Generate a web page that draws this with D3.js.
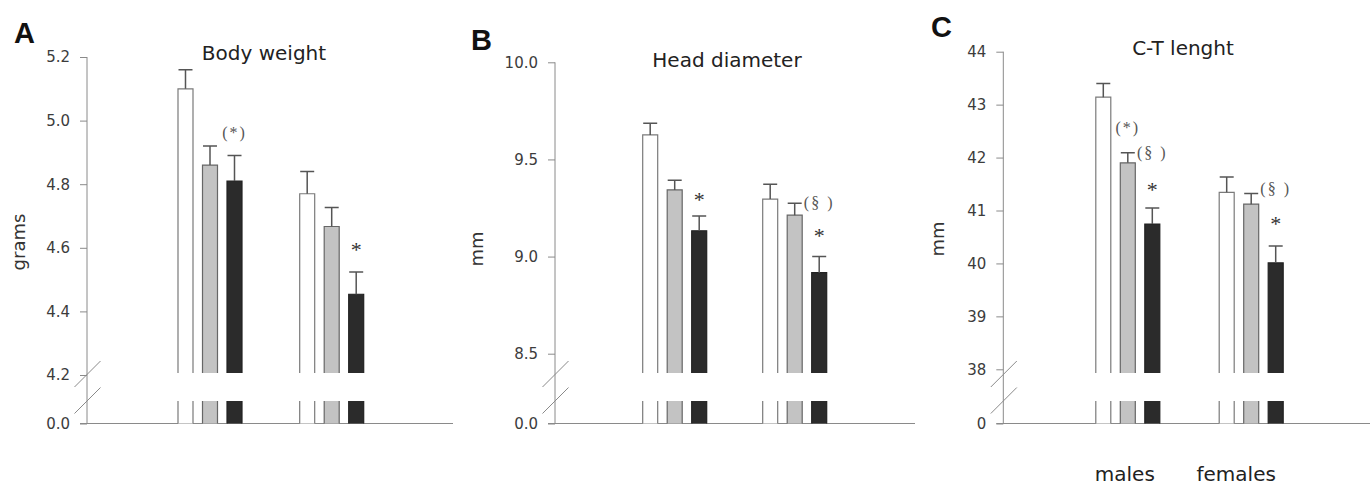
<!DOCTYPE html>
<html>
<head>
<meta charset="utf-8">
<title>Body weight, head diameter, C-T length</title>
<script src="https://d3js.org/d3.v7.min.js"></script>
<style>
  body { margin: 0; background: #fff; }
  .tick text { font-family: "DejaVu Sans", sans-serif; font-size: 15px; fill: #3c3c3c; }
  .tick line { stroke: #8a8a8a; }
  .title { font-family: "DejaVu Sans", sans-serif; font-size: 20px; fill: #222; }
  .ylab { font-family: "DejaVu Sans", sans-serif; font-size: 18px; fill: #333; }
  .letter { font-family: "Liberation Sans", Arial, sans-serif; font-size: 29px; font-weight: bold; fill: #111; }
  .note { font-family: "Liberation Serif", "Times New Roman", serif; }
</style>
</head>
<body>
<div id="chart"></div>
<script>
const groups = ["males", "females"];
const series = ["control", "low", "high"];

// values per group: [control, low, high]
const bodyWeight    = [[5.10, 4.86, 4.81], [4.77, 4.667, 4.454]];
const bodyWeightErr = [[0.06, 0.06, 0.08], [0.07, 0.06, 0.07]];
const headDiam      = [[9.626, 9.343, 9.133], [9.296, 9.213, 8.917]];
const headDiamErr   = [[0.06, 0.05, 0.076], [0.076, 0.062, 0.083]];
const ctLength      = [[43.14, 41.90, 40.745], [41.344, 41.12, 40.01]];
const ctLengthErr   = [[0.26, 0.19, 0.30], [0.29, 0.20, 0.32]];

const bwTicks = [4.2, 4.4, 4.6, 4.8, 5.0, 5.2];
const hdTicks = [8.5, 9.0, 9.5, 10.0];
const ctTicks = [38, 39, 40, 41, 42, 43, 44];

// significance marks: [group, series, text, value]
const bwNotes = [["males", 2, "(*)", 4.96], ["females", 2, "*", 4.603]];
const hdNotes = [["males", 2, "*", 9.308], ["females", 2, "(§ )", 9.271], ["females", 2, "*", 9.12]];
const ctNotes = [["males", 1, "(*)", 42.54], ["males", 2, "(§ )", 42.07], ["males", 2, "*", 41.45],
                 ["females", 2, "(§ )", 41.39], ["females", 2, "*", 40.81]];

const fills = ["#ffffff", "#c3c3c3", "#2b2b2b"];
const edges = ["#7a7a7a", "#666666", "#222222"];

const zeroY = 423.5;
const breakTop = 373;   // bottom of upper bar segment
const stubTop = 401;    // top of lower bar segment

const panels = [
  { letter: "A", lx: 14, ly: 43, title: "Body weight", tx: 264, ty: 60, ylab: "grams", yx: 19, yy: 242,
    axisX: 87, right: 453, yRange: [375, 57], ticks: bwTicks, fmt: d3.format(".1f"), zeroFmt: "0.0",
    gx: [210, 331.7], values: bodyWeight, errs: bodyWeightErr, notes: bwNotes },
  { letter: "B", lx: 471, ly: 50, title: "Head diameter", tx: 727, ty: 66.5, ylab: "mm", yx: 477, yy: 249,
    axisX: 555, right: 915, yRange: [353.7, 62.3], ticks: hdTicks, fmt: d3.format(".1f"), zeroFmt: "0.0",
    gx: [674.7, 794.7], values: headDiam, errs: headDiamErr, notes: hdNotes },
  { letter: "C", lx: 931, ly: 37, title: "C-T lenght", tx: 1183, ty: 55, ylab: "mm", yx: 938, yy: 239,
    axisX: 1003.3, right: 1370, yRange: [369.3, 51.7], ticks: ctTicks, fmt: d3.format("d"), zeroFmt: "0",
    gx: [1127.8, 1251.2], values: ctLength, errs: ctLengthErr, notes: ctNotes, xlabels: true }
];

const svg = d3.select("#chart").append("svg")
  .attr("width", 1370).attr("height", 488);

panels.forEach(p => {
  const g = svg.append("g");
  const y = d3.scaleLinear().domain([p.ticks[0], p.ticks[p.ticks.length - 1]]).range(p.yRange);
  const y0 = d3.scaleLinear().domain([0, 1]).range([zeroY, stubTop]);
  const xg = d3.scalePoint().domain(groups).range(p.gx);
  const xs = d3.scaleBand().domain(d3.range(3)).range([-32, 32]).paddingInner(0.388);
  const bw = xs.bandwidth();

  // axes
  g.append("line")
    .attr("x1", p.axisX).attr("x2", p.axisX)
    .attr("y1", y(p.ticks[p.ticks.length - 1])).attr("y2", zeroY)
    .attr("stroke", "#8a8a8a");
  g.append("line")
    .attr("x1", p.axisX - 7).attr("x2", p.right)
    .attr("y1", zeroY).attr("y2", zeroY)
    .attr("stroke", "#8a8a8a");

  const ax = g.append("g").attr("transform", `translate(${p.axisX},0)`)
    .call(d3.axisLeft(y).tickValues(p.ticks).tickFormat(p.fmt).tickSize(7).tickPadding(10));
  ax.select(".domain").remove();
  const ax0 = g.append("g").attr("transform", `translate(${p.axisX},0)`)
    .call(d3.axisLeft(y0).tickValues([0]).tickFormat(() => p.zeroFmt).tickSize(7).tickPadding(10));
  ax0.select(".domain").remove();

  // break marks
  [[387, 361], [413.5, 387.5]].forEach(([a, b]) => {
    g.append("line")
      .attr("x1", p.axisX - 12.5).attr("y1", a)
      .attr("x2", p.axisX + 13.5).attr("y2", b)
      .attr("stroke", "#8a8a8a");
  });

  // bars
  groups.forEach((grp, gi) => {
    series.forEach((s, si) => {
      const v = p.values[gi][si];
      const e = p.errs[gi][si];
      const x0 = xg(grp) + xs(si);
      const top = y(v);
      g.append("rect")
        .attr("x", x0).attr("y", top)
        .attr("width", bw).attr("height", breakTop - top)
        .attr("fill", fills[si]);
      g.append("path")
        .attr("d", `M${x0},${breakTop}V${top}H${x0 + bw}V${breakTop}`)
        .attr("fill", "none").attr("stroke", edges[si]).attr("stroke-width", 1.2);
      g.append("rect")
        .attr("x", x0).attr("y", y0(1))
        .attr("width", bw).attr("height", y0(0) - y0(1))
        .attr("fill", fills[si]);
      g.append("path")
        .attr("d", `M${x0},${y0(1)}V${y0(0)}M${x0 + bw},${y0(1)}V${y0(0)}`)
        .attr("fill", "none").attr("stroke", edges[si]).attr("stroke-width", 1.2);
      // error bar
      const cx = x0 + bw / 2;
      const ey = y(v + e);
      g.append("path")
        .attr("d", `M${cx},${top}V${ey}M${cx - bw / 2 + 0.5},${ey}H${cx + bw / 2 - 0.5}`)
        .attr("fill", "none").attr("stroke", "#555").attr("stroke-width", 1.5);
    });
  });

  // significance marks
  p.notes.forEach(([grp, si, txt, v]) => {
    const cx = xg(grp) + xs(si) + bw / 2;
    const star = txt === "*";
    g.append("text")
      .attr("class", "note")
      .attr("x", cx)
      .attr("y", y(v) + (star ? 10 : 4.5))
      .attr("text-anchor", "middle")
      .attr("font-size", star ? 22 : 16)
      .attr("letter-spacing", star ? 0 : 2)
      .attr("fill", star ? "#333" : "#555")
      .text(txt);
  });

  // labels
  g.append("text").attr("class", "letter").attr("x", p.lx).attr("y", p.ly).text(p.letter);
  g.append("text").attr("class", "title").attr("x", p.tx).attr("y", p.ty)
    .attr("text-anchor", "middle").text(p.title);
  g.append("text").attr("class", "ylab")
    .attr("transform", `translate(${p.yx},${p.yy}) rotate(-90)`)
    .attr("text-anchor", "middle").attr("dy", "0.35em").text(p.ylab);

  if (p.xlabels) {
    const offs = [-3, -15];
    groups.forEach((grp, gi) => {
      g.append("text").attr("class", "title")
        .attr("x", xg(grp) + offs[gi]).attr("y", 481)
        .attr("text-anchor", "middle").text(grp);
    });
  }
});
</script>
</body>
</html>
